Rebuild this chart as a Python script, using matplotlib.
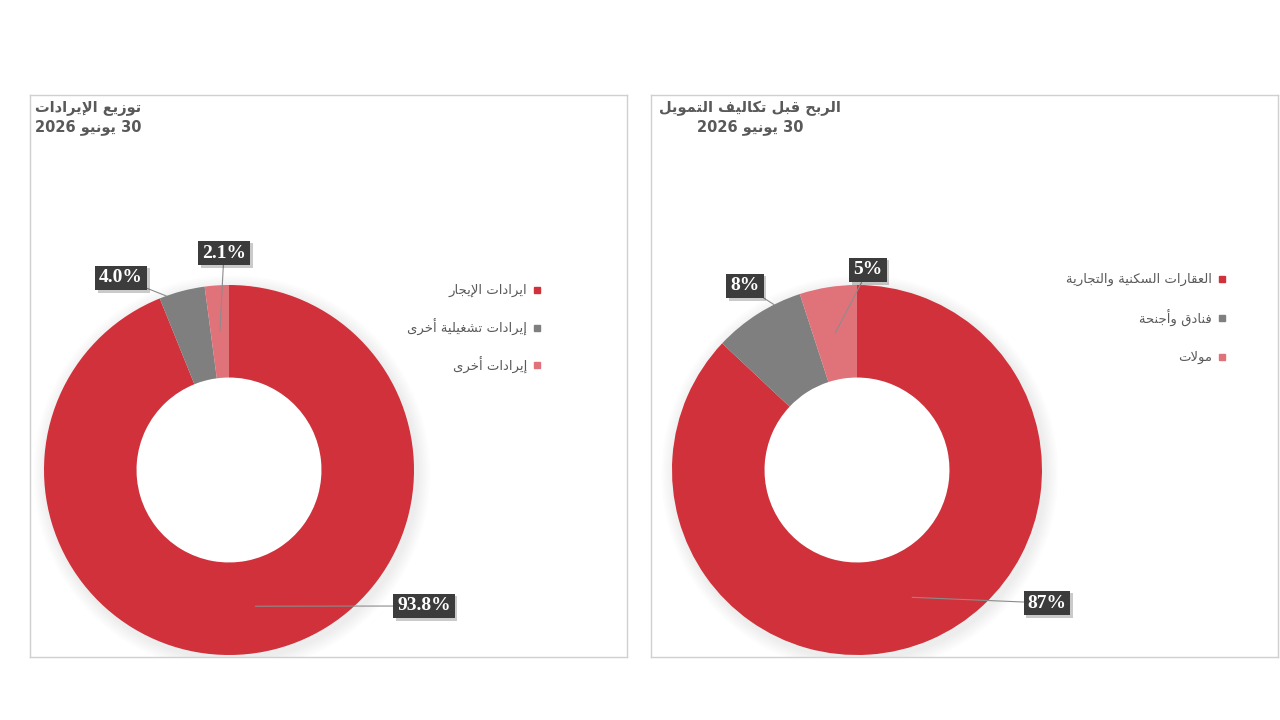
import re
import matplotlib
matplotlib.use('Agg')
import matplotlib.pyplot as plt
import matplotlib.patheffects as pe
import numpy as np

# ---- data ----
rev_title = ['توزيع الإيرادات', '30 يونيو 2026']
rev_labels = ['ايرادات الإيجار', 'إيرادات تشغيلية أخرى', 'إيرادات أخرى']
rev_values = [93.8, 4.0, 2.1]

ebit_title = ['الربح قبل تكاليف التمويل', '30 يونيو 2026']
ebit_labels = ['العقارات السكنية والتجارية', 'فنادق وأجنحة', 'مولات']
ebit_values = [87, 8, 5]

colors = ['#D0313A', '#7F7F7F', '#E0737A']

# ---- minimal arabic shaping (matplotlib has no text shaping) ----
_FORMS = {
    'ء': (0xFE80, 1), 'آ': (0xFE81, 2), 'أ': (0xFE83, 2), 'ؤ': (0xFE85, 2),
    'إ': (0xFE87, 2), 'ئ': (0xFE89, 4), 'ا': (0xFE8D, 2), 'ب': (0xFE8F, 4),
    'ة': (0xFE93, 2), 'ت': (0xFE95, 4), 'ث': (0xFE99, 4), 'ج': (0xFE9D, 4),
    'ح': (0xFEA1, 4), 'خ': (0xFEA5, 4), 'د': (0xFEA9, 2), 'ذ': (0xFEAB, 2),
    'ر': (0xFEAD, 2), 'ز': (0xFEAF, 2), 'س': (0xFEB1, 4), 'ش': (0xFEB5, 4),
    'ص': (0xFEB9, 4), 'ض': (0xFEBD, 4), 'ط': (0xFEC1, 4), 'ظ': (0xFEC5, 4),
    'ع': (0xFEC9, 4), 'غ': (0xFECD, 4), 'ف': (0xFED1, 4), 'ق': (0xFED5, 4),
    'ك': (0xFED9, 4), 'ل': (0xFEDD, 4), 'م': (0xFEE1, 4), 'ن': (0xFEE5, 4),
    'ه': (0xFEE9, 4), 'و': (0xFEED, 2), 'ى': (0xFEEF, 2), 'ي': (0xFEF1, 4),
}
_LAM_ALEF = {'آ': 0xFEF5, 'أ': 0xFEF7, 'إ': 0xFEF9, 'ا': 0xFEFB}


def shape(text):
    items = []
    i = 0
    while i < len(text):
        c = text[i]
        if c == 'ل' and i + 1 < len(text) and text[i + 1] in _LAM_ALEF:
            items.append(('LA', text[i + 1]))
            i += 2
        else:
            items.append((c, None))
            i += 1

    def nf(it):
        return 2 if it[0] == 'LA' else _FORMS.get(it[0], (0, 0))[1]

    out = []
    for k, it in enumerate(items):
        n = nf(it)
        if n == 0:
            out.append(it[0])
            continue
        base = _LAM_ALEF[it[1]] if it[0] == 'LA' else _FORMS[it[0]][0]
        if n == 1:
            out.append(chr(base))
            continue
        prev_j = k > 0 and nf(items[k - 1]) == 4
        next_j = n == 4 and k + 1 < len(items) and nf(items[k + 1]) > 0
        off = 3 if (prev_j and next_j) else 2 if next_j else 1 if prev_j else 0
        out.append(chr(base + off))
    vis = ''.join(reversed(out))
    return re.sub(r'[0-9.%]+', lambda m: m.group(0)[::-1], vis)


W, H = 1280, 720
fig = plt.figure(figsize=(12.8, 7.2), dpi=100)
fig.patch.set_facecolor('white')

txt_col = '#595959'
R = 185.0


def donut(box, center, values, labels, title, title_x, fmt, label_pos, anchors, legend_xy, legend_dy):
    x0, y0, x1, y1 = box
    cx, cy = center
    ax = fig.add_axes([x0 / W, 1 - y1 / H, (x1 - x0) / W, (y1 - y0) / H])

    # faint shadow behind the ring
    for k in range(6):
        ax.add_patch(plt.Circle((0.015, -0.02), 1.0 + 0.012 * (k + 1), color='black',
                                alpha=0.012, lw=0, zorder=0))
    wedges, _ = ax.pie(values, colors=colors, startangle=90, counterclock=False,
                       radius=1.0, wedgeprops=dict(width=0.5, linewidth=0))
    for w in wedges:
        w.set_zorder(2)
    ax.add_patch(plt.Circle((0, 0), 0.5, color='white', lw=0, zorder=1.5))
    ax.set_frame_on(True)
    ax.set_aspect('auto')
    ax.set_xlim((x0 - cx) / R, (x1 - cx) / R)
    ax.set_ylim((cy - y1) / R, (cy - y0) / R)
    ax.set_xticks([])
    ax.set_yticks([])
    for s in ax.spines.values():
        s.set_color('#D0D0D0')
        s.set_linewidth(1.0)

    # title
    fig.text(title_x / W, 1 - 118 / H, '\n'.join(shape(t) for t in title),
             ha='center', va='center', multialignment='center',
             fontsize=10.5, fontweight='bold', color=txt_col,
             family='DejaVu Sans', linespacing=1.3)

    # data labels
    total = float(sum(values))
    cum = 0.0
    for v, (lx, ly), (rr, frac) in zip(values, label_pos, anchors):
        mid = np.deg2rad(90 - 360 * (cum + v * frac) / total)
        cum += v
        t = ax.annotate(fmt.format(v), xy=(rr * np.cos(mid), rr * np.sin(mid)),
                        xytext=(lx, H - ly), textcoords='figure pixels',
                        ha='center', va='center', color='white',
                        fontsize=14, fontweight='bold', family='Liberation Serif',
                        bbox=dict(boxstyle='square,pad=0.2', fc='#3C3C3C', ec='none'),
                        arrowprops=dict(arrowstyle='-', color='#8C8C8C', lw=0.8,
                                        shrinkA=0, shrinkB=0),
                        annotation_clip=False, zorder=5)
        t.get_bbox_patch().set_path_effects(
            [pe.SimplePatchShadow(offset=(2, -2), alpha=0.22), pe.Normal()])

    # legend (marker to the right of the text)
    lx, ly = legend_xy
    for k, (lab, c) in enumerate(zip(labels, colors)):
        yy = ly + k * legend_dy
        fig.text((lx - 10) / W, 1 - yy / H, shape(lab), ha='right', va='center',
                 fontsize=9.5, color=txt_col, family='DejaVu Sans')
        fig.add_artist(plt.Line2D([lx / W], [1 - yy / H], marker='s', markersize=5,
                                  color=c, linestyle='none', transform=fig.transFigure))
    return ax


donut((30, 95, 627, 657), (229, 470), rev_values, rev_labels, rev_title, 88,
      '{:.1f}%', [(424, 606), (121, 278), (224, 253)],
      [(0.75, 0.5), (1.0, 0.15), (0.75, 0.5)],
      (537, 290), 37.5)

donut((651, 95, 1278, 657), (857, 470), ebit_values, ebit_labels, ebit_title, 750,
      '{:.0f}%', [(1047, 603), (745, 286), (868, 270)],
      [(0.75, 0.5), (1.0, 0.7), (0.75, 0.5)],
      (1222, 279), 39)

fig.savefig('out.png', dpi=100, facecolor='white')
